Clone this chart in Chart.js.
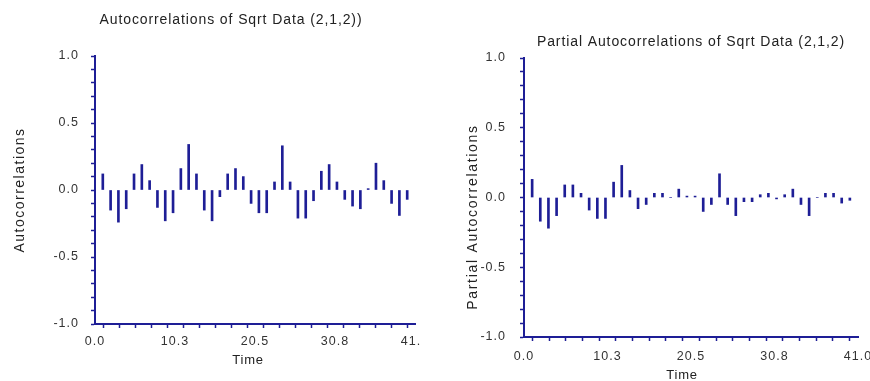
<!DOCTYPE html>
<html>
<head>
<meta charset="utf-8">
<title>Autocorrelations of Sqrt Data</title>
<script src="https://cdn.jsdelivr.net/npm/chart.js@4.4.1/dist/chart.umd.min.js"></script>
<style>
  html, body { margin: 0; padding: 0; background: #fff; }
  body { width: 870px; height: 381px; position: relative; overflow: hidden; }
  .box { position: absolute; top: 0; height: 381px; }
  #leftBox { left: 0; width: 420px; }
  #rightBox { left: 440px; width: 430px; }
</style>
</head>
<body>
<div class="box" id="leftBox"><canvas id="acfChart"></canvas></div>
<div class="box" id="rightBox"><canvas id="pacfChart"></canvas></div>

<script>
// lags 1..40
const lags = [1, 2, 3, 4, 5, 6, 7, 8, 9, 10,
  11, 12, 13, 14, 15, 16, 17, 18, 19, 20,
  21, 22, 23, 24, 25, 26, 27, 28, 29, 30,
  31, 32, 33, 34, 35, 36, 37, 38, 39, 40];

const acfValues = [0.12, -0.15, -0.24, -0.14, 0.12, 0.19, 0.07, -0.13, -0.23, -0.17,
  0.16, 0.34, 0.12, -0.15, -0.23, -0.05, 0.12, 0.16, 0.10, -0.10,
  -0.17, -0.17, 0.06, 0.33, 0.06, -0.21, -0.21, -0.08, 0.14, 0.19,
  0.06, -0.07, -0.12, -0.14, 0.01, 0.20, 0.07, -0.10, -0.19, -0.07];

const pacfValues = [0.13, -0.17, -0.22, -0.13, 0.09, 0.09, 0.03, -0.09, -0.15, -0.15,
  0.11, 0.23, 0.05, -0.08, -0.05, 0.03, 0.03, 0.00, 0.06, 0.01,
  0.01, -0.10, -0.05, 0.17, -0.05, -0.13, -0.03, -0.03, 0.02, 0.03,
  -0.01, 0.02, 0.06, -0.05, -0.13, 0.00, 0.03, 0.03, -0.04, -0.02];

const xTickLabels = ['0.0', '10.3', '20.5', '30.8', '41.0'];
const yTickLabels = ['-1.0', '-0.5', '0.0', '0.5', '1.0'];

const xMax = 41;
const xTickCount = 20;   // minor ticks, a label every 5th
const yTickCount = 20;

const blue = '#1e1e96';
const fontFamily = "'Liberation Sans', Arial, sans-serif";


// titles and free labels, drawn by hand so they can sit where the original has them
const freeText = {
  id: 'freeText',
  beforeDraw: function(chart) {
    chart.ctx.letterSpacing = '1px';
  },
  afterDraw: function(chart, args, opts) {
    let ctx = chart.ctx;
    (opts.items || []).forEach(function(t) {
      ctx.save();
      ctx.font = t.font;
      ctx.fillStyle = '#222';
      ctx.textAlign = 'center';
      ctx.textBaseline = 'middle';
      ctx.letterSpacing = t.spacing;
      ctx.translate(t.x, t.y);
      if (t.rotate) ctx.rotate(-Math.PI / 2);
      ctx.fillText(t.text, 0, 0);
      ctx.restore();
    });
  }
};


function toPoints(values)
{
  return lags.map(function(lag, i) { return { x: lag, y: values[i] }; });
}

function makeChart(canvasId, values, box, texts)
{
  let ctx = document.getElementById(canvasId).getContext('2d');

  return new Chart(ctx, {
    type: 'bar',
    data: {
      datasets: [{
        data: toPoints(values),
        backgroundColor: blue,
        borderWidth: 0,
        barThickness: 2,
        grouped: false
      }]
    },
    options: {
      responsive: true,
      maintainAspectRatio: false,
      animation: false,
      layout: {
        padding: { left: 0, top: box.top, right: box.right, bottom: 0 }
      },
      plugins: {
        legend: { display: false },
        tooltip: { enabled: false },
        freeText: { items: texts }
      },
      scales: {
        x: {
          type: 'linear',
          min: 0,
          max: xMax,
          offset: false,
          afterBuildTicks: function(scale) {
            let t = [];
            for (let i = 0; i <= xTickCount; i++) t.push({ value: xMax * i / xTickCount });
            scale.ticks = t;
          },
          afterFit: function(scale) {
            scale.height = box.xHeight;
            scale.paddingLeft = 0;
            scale.paddingRight = 0;
          },
          ticks: {
            autoSkip: false,
            maxRotation: 0,
            padding: box.xPad,
            color: '#333',
            font: { family: fontFamily, size: 12.5 },
            callback: function(v, i) { return i % 5 === 0 ? xTickLabels[i / 5] : ''; }
          },
          grid: {
            drawOnChartArea: false,
            drawTicks: true,
            tickLength: 4,
            tickWidth: 1.5,
            tickColor: blue
          },
          border: { display: true, color: blue, width: 2 }
        },
        y: {
          min: -1,
          max: 1,
          afterBuildTicks: function(scale) {
            let t = [];
            for (let i = 0; i <= yTickCount; i++) t.push({ value: -1 + 2 * i / yTickCount });
            scale.ticks = t;
          },
          afterFit: function(scale) {
            scale.width = box.yWidth;
            scale.paddingTop = 0;
            scale.paddingBottom = 0;
          },
          ticks: {
            autoSkip: false,
            padding: box.yPad,
            color: '#333',
            font: { family: fontFamily, size: 12.5 },
            callback: function(v, i) { return i % 5 === 0 ? yTickLabels[i / 5] : ''; }
          },
          grid: {
            drawOnChartArea: false,
            drawTicks: true,
            tickLength: 4,
            tickWidth: 1.5,
            tickColor: blue
          },
          border: { display: true, color: blue, width: 2 }
        }
      }
    },
    plugins: [freeText]
  });
}


makeChart('acfChart', acfValues,
  { top: 56, right: 5, xHeight: 57, yWidth: 95, xPad: 6, yPad: 12 },
  [
    { text: 'Autocorrelations of Sqrt Data (2,1,2))', x: 231, y: 20, font: '14px ' + fontFamily, spacing: '0.9px' },
    { text: 'Autocorrelations', x: 20, y: 190, rotate: true, font: '14px ' + fontFamily, spacing: '1.5px' },
    { text: 'Time', x: 248, y: 360, font: '13px ' + fontFamily, spacing: '0.8px' }
  ]);

makeChart('pacfChart', pacfValues,
  { top: 58, right: 12, xHeight: 44, yWidth: 84, xPad: 8, yPad: 14 },
  [
    { text: 'Partial Autocorrelations of Sqrt Data (2,1,2)', x: 251, y: 42, font: '14px ' + fontFamily, spacing: '0.9px' },
    { text: 'Partial Autocorrelations', x: 33, y: 217, rotate: true, font: '14px ' + fontFamily, spacing: '1.7px' },
    { text: 'Time', x: 242, y: 375, font: '13px ' + fontFamily, spacing: '0.8px' }
  ]);
</script>
</body>
</html>
